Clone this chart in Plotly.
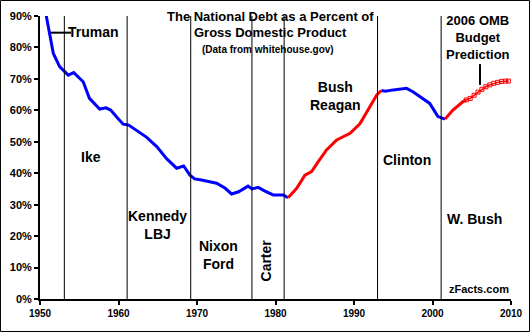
import plotly.graph_objects as go

# Federal debt held as a share of GDP (percent), by period of administration
truman_to_carter_years = [1950.5, 1951.4, 1951.7, 1952.5, 1953.1, 1953.6, 1954.3, 1955.5, 1956.3,
                          1957.6, 1958.4, 1959.0, 1959.9, 1960.6, 1961.3, 1962.7, 1963.6, 1964.9,
                          1966.1, 1967.4, 1968.3, 1969.1, 1969.7, 1970.4, 1971.6, 1972.5, 1973.6,
                          1974.4, 1975.3, 1975.9, 1976.5, 1977.0, 1977.8, 1978.6, 1979.7, 1981.0,
                          1981.6]
truman_to_carter_pct = [94.0, 81.3, 78.1, 73.9, 72.3, 71.2, 72.0, 69.1, 63.8,
                        60.4, 60.8, 60.1, 57.5, 55.6, 55.3, 53.0, 51.4, 48.4,
                        44.7, 41.6, 42.3, 39.4, 38.2, 37.9, 37.4, 36.8, 35.2,
                        33.4, 34.1, 34.9, 35.9, 35.0, 35.5, 34.4, 33.1, 33.1,
                        32.2]

reagan_bush_years = [1981.6, 1982.7, 1983.75, 1984.6, 1985.45, 1986.5, 1987.8, 1988.6,
                     1989.5, 1990.75, 1991.8, 1992.9, 1993.5]
reagan_bush_pct = [32.2, 35.2, 39.4, 40.5, 43.7, 47.4, 50.6, 51.6,
                   52.7, 55.7, 60.1, 64.9, 66.3]

clinton_years = [1993.5, 1994.0, 1995.0, 1996.7, 1997.5, 1998.8, 1999.65, 2000.3, 2000.7, 2001.6]
clinton_pct = [66.3, 66.1, 66.5, 67.0, 65.9, 63.5, 62.2, 59.6, 58.0, 57.2]

wbush_years = [2001.6, 2002.6, 2003.9, 2004.3]
wbush_pct = [57.2, 60.1, 62.8, 63.3]

# 2006 OMB budget projection
omb_years = [2004.3, 2004.8, 2005.3, 2005.8, 2006.3, 2006.8, 2007.3, 2007.8,
             2008.3, 2008.8, 2009.3, 2009.7]
omb_pct = [63.3, 63.8, 64.8, 65.8, 66.7, 67.5, 68.1, 68.6,
           68.9, 69.2, 69.3, 69.3]

term_starts = [1953.1, 1961.1, 1969.2, 1977.0, 1981.1, 1993.0, 2001.1]

x_ticks = [1950, 1960, 1970, 1980, 1990, 2000, 2010]
y_ticks = [0, 10, 20, 30, 40, 50, 60, 70, 80, 90]
y_tick_text = [f"{v}%" for v in y_ticks]

BLUE = "#0000FF"
RED = "#FF0000"
FONT = "Liberation Sans, Arial, sans-serif"

fig = go.Figure()

segments = [
    (truman_to_carter_years, truman_to_carter_pct, BLUE),
    (reagan_bush_years, reagan_bush_pct, RED),
    (clinton_years, clinton_pct, BLUE),
    (wbush_years, wbush_pct, RED),
]
for xs, ys, color in segments:
    fig.add_trace(go.Scatter(x=xs, y=ys, mode="lines",
                             line=dict(color=color, width=3),
                             hoverinfo="skip", showlegend=False))

fig.add_trace(go.Scatter(x=omb_years, y=omb_pct, mode="lines+markers",
                         line=dict(color=RED, width=1.5),
                         marker=dict(symbol="square-open", size=4, color=RED,
                                     line=dict(color=RED, width=1)),
                         hoverinfo="skip", showlegend=False))

shapes = []
for yr in term_starts:
    shapes.append(dict(type="line", xref="x", yref="y", x0=yr, x1=yr, y0=0, y1=90,
                       line=dict(color="black", width=1)))

# leader lines for the Truman and projection labels
shapes.append(dict(type="line", xref="x", yref="y", x0=1951.36, x1=1953.95, y0=84.7, y1=84.7,
                   line=dict(color="black", width=2)))
shapes.append(dict(type="line", xref="x", yref="y", x0=2006.05, x1=2006.05, y0=68.1, y1=74.7,
                   line=dict(color="black", width=2)))

# frame around the whole figure
shapes.append(dict(type="rect", xref="paper", yref="paper",
                   x0=-0.0839, x1=1.0393, y0=-0.1148, y1=1.0548,
                   line=dict(color="black", width=1), fillcolor="rgba(0,0,0,0)"))


def label(text, x, y, size=14, angle=0):
    return dict(text=f"<b>{text}</b>", x=x, y=y, xref="x", yref="y",
                showarrow=False, xanchor="center", yanchor="middle",
                textangle=angle, font=dict(family=FONT, size=size, color="black"))


annotations = [
    label("The National Debt as a Percent of", 1979.4, 90.0, size=13),
    label("Gross Domestic Product", 1979.3, 84.6, size=13),
    label("(Data from whitehouse.gov)", 1979.0, 79.5, size=10),
    label("Truman", 1956.8, 84.9),
    label("Ike", 1956.5, 45.2),
    label("Kennedy<br>LBJ", 1965.03, 23.5),
    label("Nixon<br>Ford", 1972.8, 14.15),
    label("Carter", 1978.73, 12.1, angle=-90),
    label("Bush<br>Reagan", 1987.58, 64.7),
    label("Clinton", 1996.75, 44.2),
    label("W. Bush", 2005.41, 25.4),
    label("2006 OMB<br>Budget<br>Prediction", 2005.8, 83.3, size=13),
    label("zFacts.com", 2005.86, 3.2, size=11),
]

fig.update_layout(
    width=530, height=332,
    margin=dict(l=40, r=19, t=16, b=33),
    paper_bgcolor="white", plot_bgcolor="white",
    shapes=shapes, annotations=annotations,
    xaxis=dict(range=[1950, 2010], tickvals=x_ticks, showgrid=False, zeroline=False,
               showline=True, linecolor="black", linewidth=2,
               ticks="outside", ticklen=4, tickwidth=2, tickcolor="black",
               automargin=False,
               tickfont=dict(family=FONT, size=10, color="black", weight="bold"),
               fixedrange=True),
    yaxis=dict(range=[0, 90], tickvals=y_ticks, ticktext=y_tick_text,
               showgrid=False, zeroline=False,
               showline=True, linecolor="black", linewidth=2,
               ticks="outside", ticklen=4, tickwidth=2, tickcolor="black",
               automargin=False,
               tickfont=dict(family=FONT, size=11, color="black", weight="bold"),
               fixedrange=True),
)

fig.write_html("out.html")
